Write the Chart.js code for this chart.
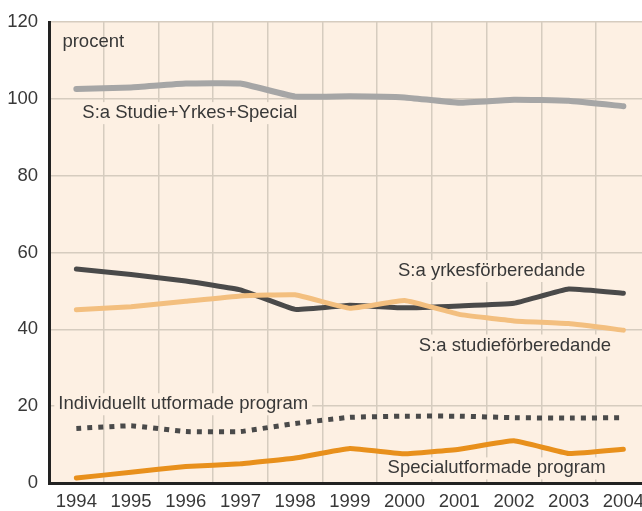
<!DOCTYPE html>
<html>
<head>
<meta charset="utf-8">
<script src="https://cdn.jsdelivr.net/npm/chart.js@4"></script>
<style>
  html, body { margin: 0; padding: 0; background: #fff; overflow: hidden; }
  #wrap { width: 642px; height: 511px; overflow: hidden; }
</style>
</head>
<body>
<div id="wrap"><canvas id="graf" width="652" height="511"></canvas></div>
<script>
const ANOS = ['1994', '1995', '1996', '1997', '1998', '1999', '2000', '2001', '2002', '2003', '2004'];
const Y_TICKS = [0, 20, 40, 60, 80, 100, 120];

const totalt = [102.6, 103.0, 104.0, 104.0, 100.6, 100.7, 100.4, 99.0, 99.8, 99.5, 98.1];
const yrkes = [55.7, 54.3, 52.6, 50.3, 45.2, 46.3, 45.6, 46.1, 46.8, 50.5, 49.4];
const studie = [45.1, 45.9, 47.3, 48.7, 49.0, 45.5, 47.5, 43.9, 42.2, 41.5, 39.8];
const individ = [14.2, 14.9, 13.4, 13.4, 15.5, 17.1, 17.4, 17.4, 17.0, 16.9, 17.0];
const special = [1.3, 2.8, 4.3, 5.0, 6.5, 9.0, 7.6, 8.8, 11.0, 7.7, 8.8];

const TEXTOS = ['procent', 'S:a Studie+Yrkes+Special', 'S:a yrkesförberedande',
  'S:a studieförberedande', 'Individuellt utformade program', 'Specialutformade program'];

// posição dos textos em unidades do gráfico (índice do ano, valor)
const rotulos = [
  { t: TEXTOS[0], x: -0.255, y: 114.8, fundo: false },
  { t: TEXTOS[1], x: 0.11, y: 96.3, fundo: true },
  { t: TEXTOS[2], x: 5.88, y: 55.2, fundo: true },
  { t: TEXTOS[3], x: 6.26, y: 35.8, fundo: true },
  { t: TEXTOS[4], x: -0.33, y: 20.5, fundo: true },
  { t: TEXTOS[5], x: 5.69, y: 3.8, fundo: true }
];

const COR_FUNDO = '#fdf0e3';
const COR_GRADE = '#d6ccbf';
const COR_TEXTO = '#383838';
const FONTE = '"Liberation Sans", Arial, sans-serif';

const fundoPlugin = {
  id: 'fundo',
  beforeDraw(chart) {
    const { ctx, chartArea: a } = chart;
    ctx.save();
    ctx.fillStyle = COR_FUNDO;
    ctx.fillRect(a.left, a.top, a.right - a.left, a.bottom - a.top);
    ctx.restore();
  },
  beforeDatasetsDraw(chart) {
    const { ctx } = chart;
    const sx = chart.scales.x, sy = chart.scales.y;
    ctx.save();
    ctx.font = '18.5px ' + FONTE;
    ctx.textBaseline = 'middle';
    ctx.textAlign = 'left';
    rotulos.forEach(r => {
      const px = sx.getPixelForValue(r.x);
      const py = sy.getPixelForValue(r.y);
      const w = ctx.measureText(r.t).width;
      if (r.fundo) {
        ctx.fillStyle = COR_FUNDO;
        ctx.fillRect(px - 4, py - 11, w + 8, 22);
      }
      ctx.fillStyle = COR_TEXTO;
      ctx.fillText(r.t, px, py);
    });
    ctx.restore();
  }
};

function serie(label, data, cor, largura, extra) {
  return Object.assign({
    label: label, data: data, borderColor: cor, borderWidth: largura,
    pointRadius: 0, fill: false, tension: 0.1,
    borderCapStyle: 'round', borderJoinStyle: 'round'
  }, extra || {});
}

new Chart(document.getElementById('graf'), {
  type: 'line',
  data: {
    labels: ANOS,
    datasets: [
      serie(TEXTOS[1], totalt, '#a6a6a6', 6),
      serie(TEXTOS[3], studie, '#f3bf7f', 5),
      serie(TEXTOS[2], yrkes, '#4a4a4a', 5),
      serie(TEXTOS[4], individ, '#4a4a4a', 5, { borderDash: [5, 6], borderCapStyle: 'butt' }),
      serie(TEXTOS[5], special, '#e8901c', 5)
    ]
  },
  options: {
    responsive: false,
    animation: false,
    layout: { padding: { top: 19, right: 1, left: 0, bottom: 0 } },
    plugins: { legend: { display: false }, tooltip: { enabled: false } },
    scales: {
      x: {
        offset: true,
        grid: { offset: true, color: COR_GRADE, lineWidth: 1.5, drawTicks: false },
        border: { color: '#222', width: 3 },
        ticks: { color: COR_TEXTO, font: { size: 18.5, family: FONTE }, padding: 8, maxRotation: 0, autoSkip: false },
        afterFit(s) { s.height = 28; }
      },
      y: {
        min: 0, max: 120,
        afterBuildTicks(s) { s.ticks = Y_TICKS.map(v => ({ value: v })); },
        grid: { color: COR_GRADE, lineWidth: 1.5, drawTicks: false },
        border: { color: '#222', width: 3 },
        ticks: { color: COR_TEXTO, font: { size: 18.5, family: FONTE }, padding: 11 },
        afterFit(s) { s.width = 49; }
      }
    }
  },
  plugins: [fundoPlugin]
});
</script>
</body>
</html>
